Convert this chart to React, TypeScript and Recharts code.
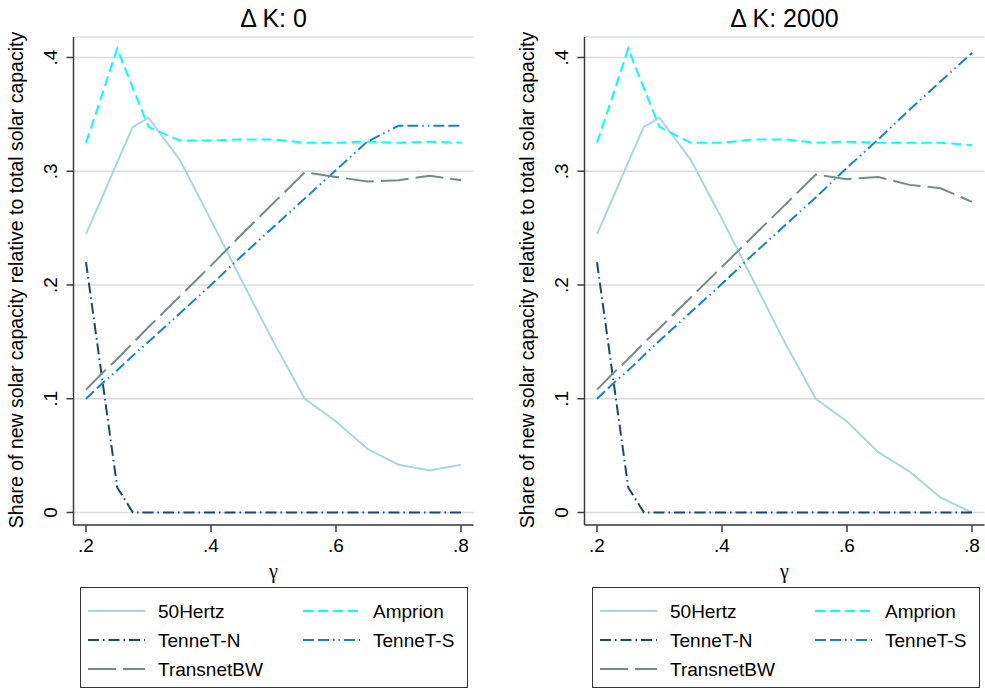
import React from 'react';
import { LineChart, Line, XAxis, YAxis, CartesianGrid } from 'recharts';

// gamma grid (x axis)
const gamma = [0.2, 0.225, 0.25, 0.275, 0.3, 0.35, 0.4, 0.45, 0.5, 0.55, 0.6, 0.65, 0.7, 0.75, 0.8];

// Δ K: 0
const hertz50K0 = [0.245, 0.276, 0.308, 0.339, 0.347, 0.31, 0.257, 0.203, 0.15, 0.1, 0.08, 0.056, 0.042, 0.037, 0.042];
const amprionK0 = [0.325, 0.366, 0.408, 0.373, 0.339, 0.327, 0.327, 0.328, 0.328, 0.325, 0.325, 0.326, 0.325, 0.326, 0.325];
const tennetNK0 = [0.22, 0.121, 0.022, 0, 0, 0, 0, 0, 0, 0, 0, 0, 0, 0, 0];
const tennetSK0 = [0.1, 0.113, 0.125, 0.138, 0.15, 0.175, 0.2, 0.226, 0.251, 0.276, 0.301, 0.326, 0.34, 0.34, 0.34];
const transnetK0 = [0.108, 0.122, 0.135, 0.149, 0.163, 0.19, 0.217, 0.245, 0.272, 0.299, 0.295, 0.291, 0.292, 0.296, 0.292];

// Δ K: 2000
const hertz50K2000 = [0.245, 0.276, 0.308, 0.339, 0.347, 0.31, 0.258, 0.204, 0.15, 0.1, 0.08, 0.053, 0.036, 0.013, 0];
const amprionK2000 = [0.325, 0.366, 0.408, 0.373, 0.339, 0.325, 0.325, 0.328, 0.328, 0.325, 0.326, 0.325, 0.325, 0.325, 0.323];
const tennetNK2000 = [0.22, 0.121, 0.022, 0, 0, 0, 0, 0, 0, 0, 0, 0, 0, 0, 0];
const tennetSK2000 = [0.1, 0.113, 0.125, 0.138, 0.151, 0.176, 0.201, 0.227, 0.252, 0.277, 0.303, 0.328, 0.354, 0.379, 0.404];
const transnetK2000 = [0.108, 0.122, 0.135, 0.149, 0.162, 0.189, 0.216, 0.243, 0.27, 0.297, 0.293, 0.295, 0.288, 0.285, 0.273];

const xTicks = [0.2, 0.4, 0.6, 0.8];
const yTicks = [0, 0.1, 0.2, 0.3, 0.4];

const FONT = '"Liberation Sans", Arial, Helvetica, sans-serif';
const AXIS = '#3c3c3c';

const series = [
  { key: 'hertz50', name: '50Hertz', color: '#a8d6e4', dash: undefined },
  { key: 'amprion', name: 'Amprion', color: '#00ffff', dash: '10 5' },
  { key: 'tennetN', name: 'TenneT-N', color: '#1a476f', dash: '11 4 1.5 4' },
  { key: 'tennetS', name: 'TenneT-S', color: '#1287be', dash: '11 4 11 4 1.5 4 1.5 4' },
  { key: 'transnet', name: 'TransnetBW', color: '#6f8f86', dash: '28 7' },
];

const buildRows = (h: number[], a: number[], n: number[], s: number[], t: number[]) =>
  gamma.map((g, i) => ({ gamma: g, hertz50: h[i], amprion: a[i], tennetN: n[i], tennetS: s[i], transnet: t[i] }));

const rowsK0 = buildRows(hertz50K0, amprionK0, tennetNK0, tennetSK0, transnetK0);
const rowsK2000 = buildRows(hertz50K2000, amprionK2000, tennetNK2000, tennetSK2000, transnetK2000);

const fmt = (v: number) => (v === 0 ? '0' : v.toFixed(1).replace(/^0/, ''));

const YTick = ({ x, y, payload }: any) => (
  <text
    x={x - 14}
    y={y}
    dy="0.36em"
    transform={`rotate(-90, ${x - 14}, ${y})`}
    textAnchor="middle"
    fontSize={19}
    fontFamily={FONT}
    fill="#000"
  >
    {fmt(payload.value)}
  </text>
);

const XTick = ({ x, y, payload }: any) => (
  <text x={x} y={y} dy="0.71em" textAnchor="middle" fontSize={19} fontFamily={FONT} fill="#000">
    {fmt(payload.value)}
  </text>
);

const Panel = ({ left, width, title, data }: { left: number; width: number; title: string; data: any[] }) => {
  const plotLeft = 73.5;
  const plotWidth = 400;
  const cx = left + plotLeft + plotWidth / 2;
  return (
    <>
      <div style={{ position: 'absolute', left: cx - 150, top: 2, width: 300, textAlign: 'center', fontSize: 25, fontFamily: FONT, lineHeight: '32px' }}>
        {title}
      </div>
      <div style={{ position: 'absolute', left, top: 0 }}>
        <LineChart
          width={width}
          height={560}
          data={data}
          margin={{ top: 37, right: width - plotLeft - plotWidth, bottom: 0, left: 0 }}
        >
          <CartesianGrid vertical={false} stroke="#dcdcdc" strokeWidth={1.5} />
          <XAxis
            type="number"
            dataKey="gamma"
            domain={[0.18, 0.82]}
            ticks={xTicks}
            allowDataOverflow
            height={35}
            tickSize={7}
            tickMargin={7}
            stroke={AXIS}
            strokeWidth={1.5}
            tick={<XTick />}
          />
          <YAxis
            type="number"
            domain={[-0.011, 0.418]}
            ticks={yTicks}
            allowDataOverflow
            width={plotLeft}
            tickSize={7}
            stroke={AXIS}
            strokeWidth={1.5}
            tick={<YTick />}
          />
          {series.map((s) => (
            <Line
              key={s.key}
              type="linear"
              dataKey={s.key}
              name={s.name}
              stroke={s.color}
              strokeWidth={2}
              strokeDasharray={s.dash}
              dot={false}
              activeDot={false}
              isAnimationActive={false}
            />
          ))}
        </LineChart>
      </div>
      <svg style={{ position: 'absolute', left, top: 0, pointerEvents: 'none' }} width={width} height={600}>
        <text
          x={16}
          y={280}
          transform={`rotate(-90, 16, 280)`}
          dy="0.36em"
          textAnchor="middle"
          fontSize={19.5}
          fontFamily={FONT}
          fill="#000"
        >
          Share of new solar capacity relative to total solar capacity
        </text>
        <text
          x={plotLeft + plotWidth / 2}
          y={571}
          dy="0.36em"
          textAnchor="middle"
          fontSize={20}
          fontFamily='"Liberation Serif", "DejaVu Serif", serif'
          fill="#000"
        >
          γ
        </text>
      </svg>
    </>
  );
};

const legendRows = [
  [series[0], series[1]],
  [series[2], series[3]],
  [series[4]],
];

const LegendBox = ({ left }: { left: number }) => (
  <svg style={{ position: 'absolute', left, top: 587 }} width={389} height={102}>
    <rect x={0.5} y={0.5} width={387} height={100} fill="#fff" stroke="#333" strokeWidth={1} />
    {legendRows.map((row, r) =>
      row.map((s, c) => {
        const x0 = 8 + c * 215;
        const y = 24 + r * 29;
        return (
          <g key={s.key}>
            <line x1={x0} x2={x0 + 57} y1={y} y2={y} stroke={s.color} strokeWidth={2} strokeDasharray={s.dash} />
            <text x={x0 + 70} y={y} dy="0.36em" fontSize={19} fontFamily={FONT} fill="#000">
              {s.name}
            </text>
          </g>
        );
      })
    )}
  </svg>
);

export default function App() {
  return (
    <div style={{ position: 'absolute', left: 0, top: 0, width: 985, height: 690, background: '#fff', overflow: 'hidden' }}>
      <Panel left={0} width={490} title="Δ K: 0" data={rowsK0} />
      <Panel left={511} width={474} title="Δ K: 2000" data={rowsK2000} />
      <LegendBox left={80} />
      <LegendBox left={592} />
    </div>
  );
}
